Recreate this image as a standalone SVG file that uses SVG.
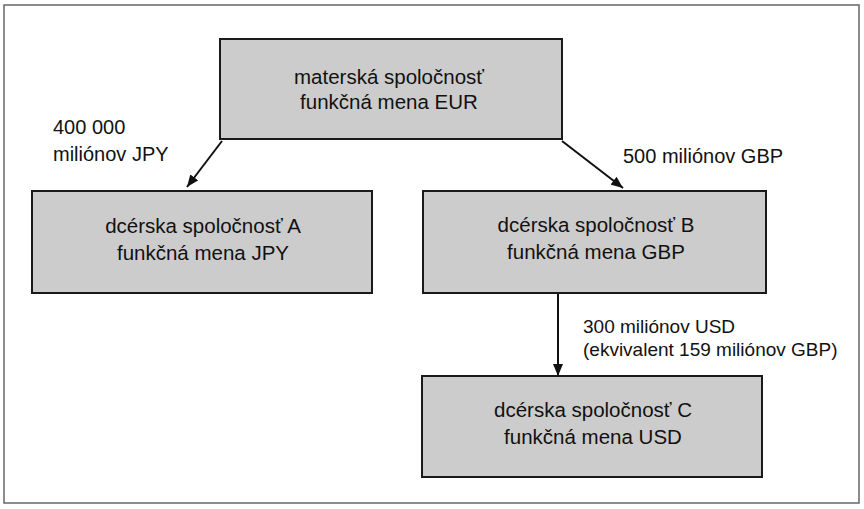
<svg xmlns="http://www.w3.org/2000/svg" width="864" height="509" viewBox="0 0 864 509">
<defs>
<style>
.box{fill:#cccccc;stroke:#1a1a1a;stroke-width:2}
.t{font-family:"Liberation Sans",Arial,sans-serif;font-size:20.5px;fill:#111;text-anchor:middle}
.l{font-family:"Liberation Sans",Arial,sans-serif;font-size:20px;fill:#111}
.s{font-size:19px}
.c{stroke:#111;stroke-width:2;fill:none;marker-end:url(#ah)}
</style>
<marker id="ah" viewBox="0 0 12 10" refX="12" refY="5" markerWidth="12" markerHeight="10" markerUnits="userSpaceOnUse" orient="auto">
<path d="M0,0 L12,5 L0,10 Z" fill="#111"/>
</marker>
</defs>
<rect x="0" y="0" width="864" height="509" fill="#ffffff"/>
<rect x="4" y="5" width="855" height="498" fill="none" stroke="#666" stroke-width="1.5"/>
<g id="connectors">
<line class="c" x1="222" y1="141" x2="187" y2="187"/>
<line class="c" x1="562" y1="141" x2="623" y2="188"/>
<line class="c" x1="558" y1="293" x2="558" y2="376"/>
</g>
<g id="labels">
<text class="l" x="53" y="134">400 000</text>
<text class="l" x="53" y="161">miliónov JPY</text>
<text class="l" x="623" y="163">500 miliónov GBP</text>
<text class="l s" x="583" y="333">300 miliónov USD</text>
<text class="l s" x="583" y="356">(ekvivalent 159 miliónov GBP)</text>
</g>
<g id="parent">
<rect class="box" x="220" y="39" width="342" height="100"/>
<text class="t" x="389" y="84">materská spoločnosť</text>
<text class="t" x="389" y="109">funkčná mena EUR</text>
</g>
<g id="subA">
<rect class="box" x="32" y="191" width="340" height="102"/>
<text class="t" x="203" y="233">dcérska spoločnosť A</text>
<text class="t" x="203" y="260">funkčná mena JPY</text>
</g>
<g id="subB">
<rect class="box" x="423" y="191" width="343" height="102"/>
<text class="t" x="596" y="232">dcérska spoločnosť B</text>
<text class="t" x="596" y="259">funkčná mena GBP</text>
</g>
<g id="subC">
<rect class="box" x="422" y="376" width="340" height="101"/>
<text class="t" x="593" y="417">dcérska spoločnosť C</text>
<text class="t" x="593" y="444">funkčná mena USD</text>
</g>
</svg>
